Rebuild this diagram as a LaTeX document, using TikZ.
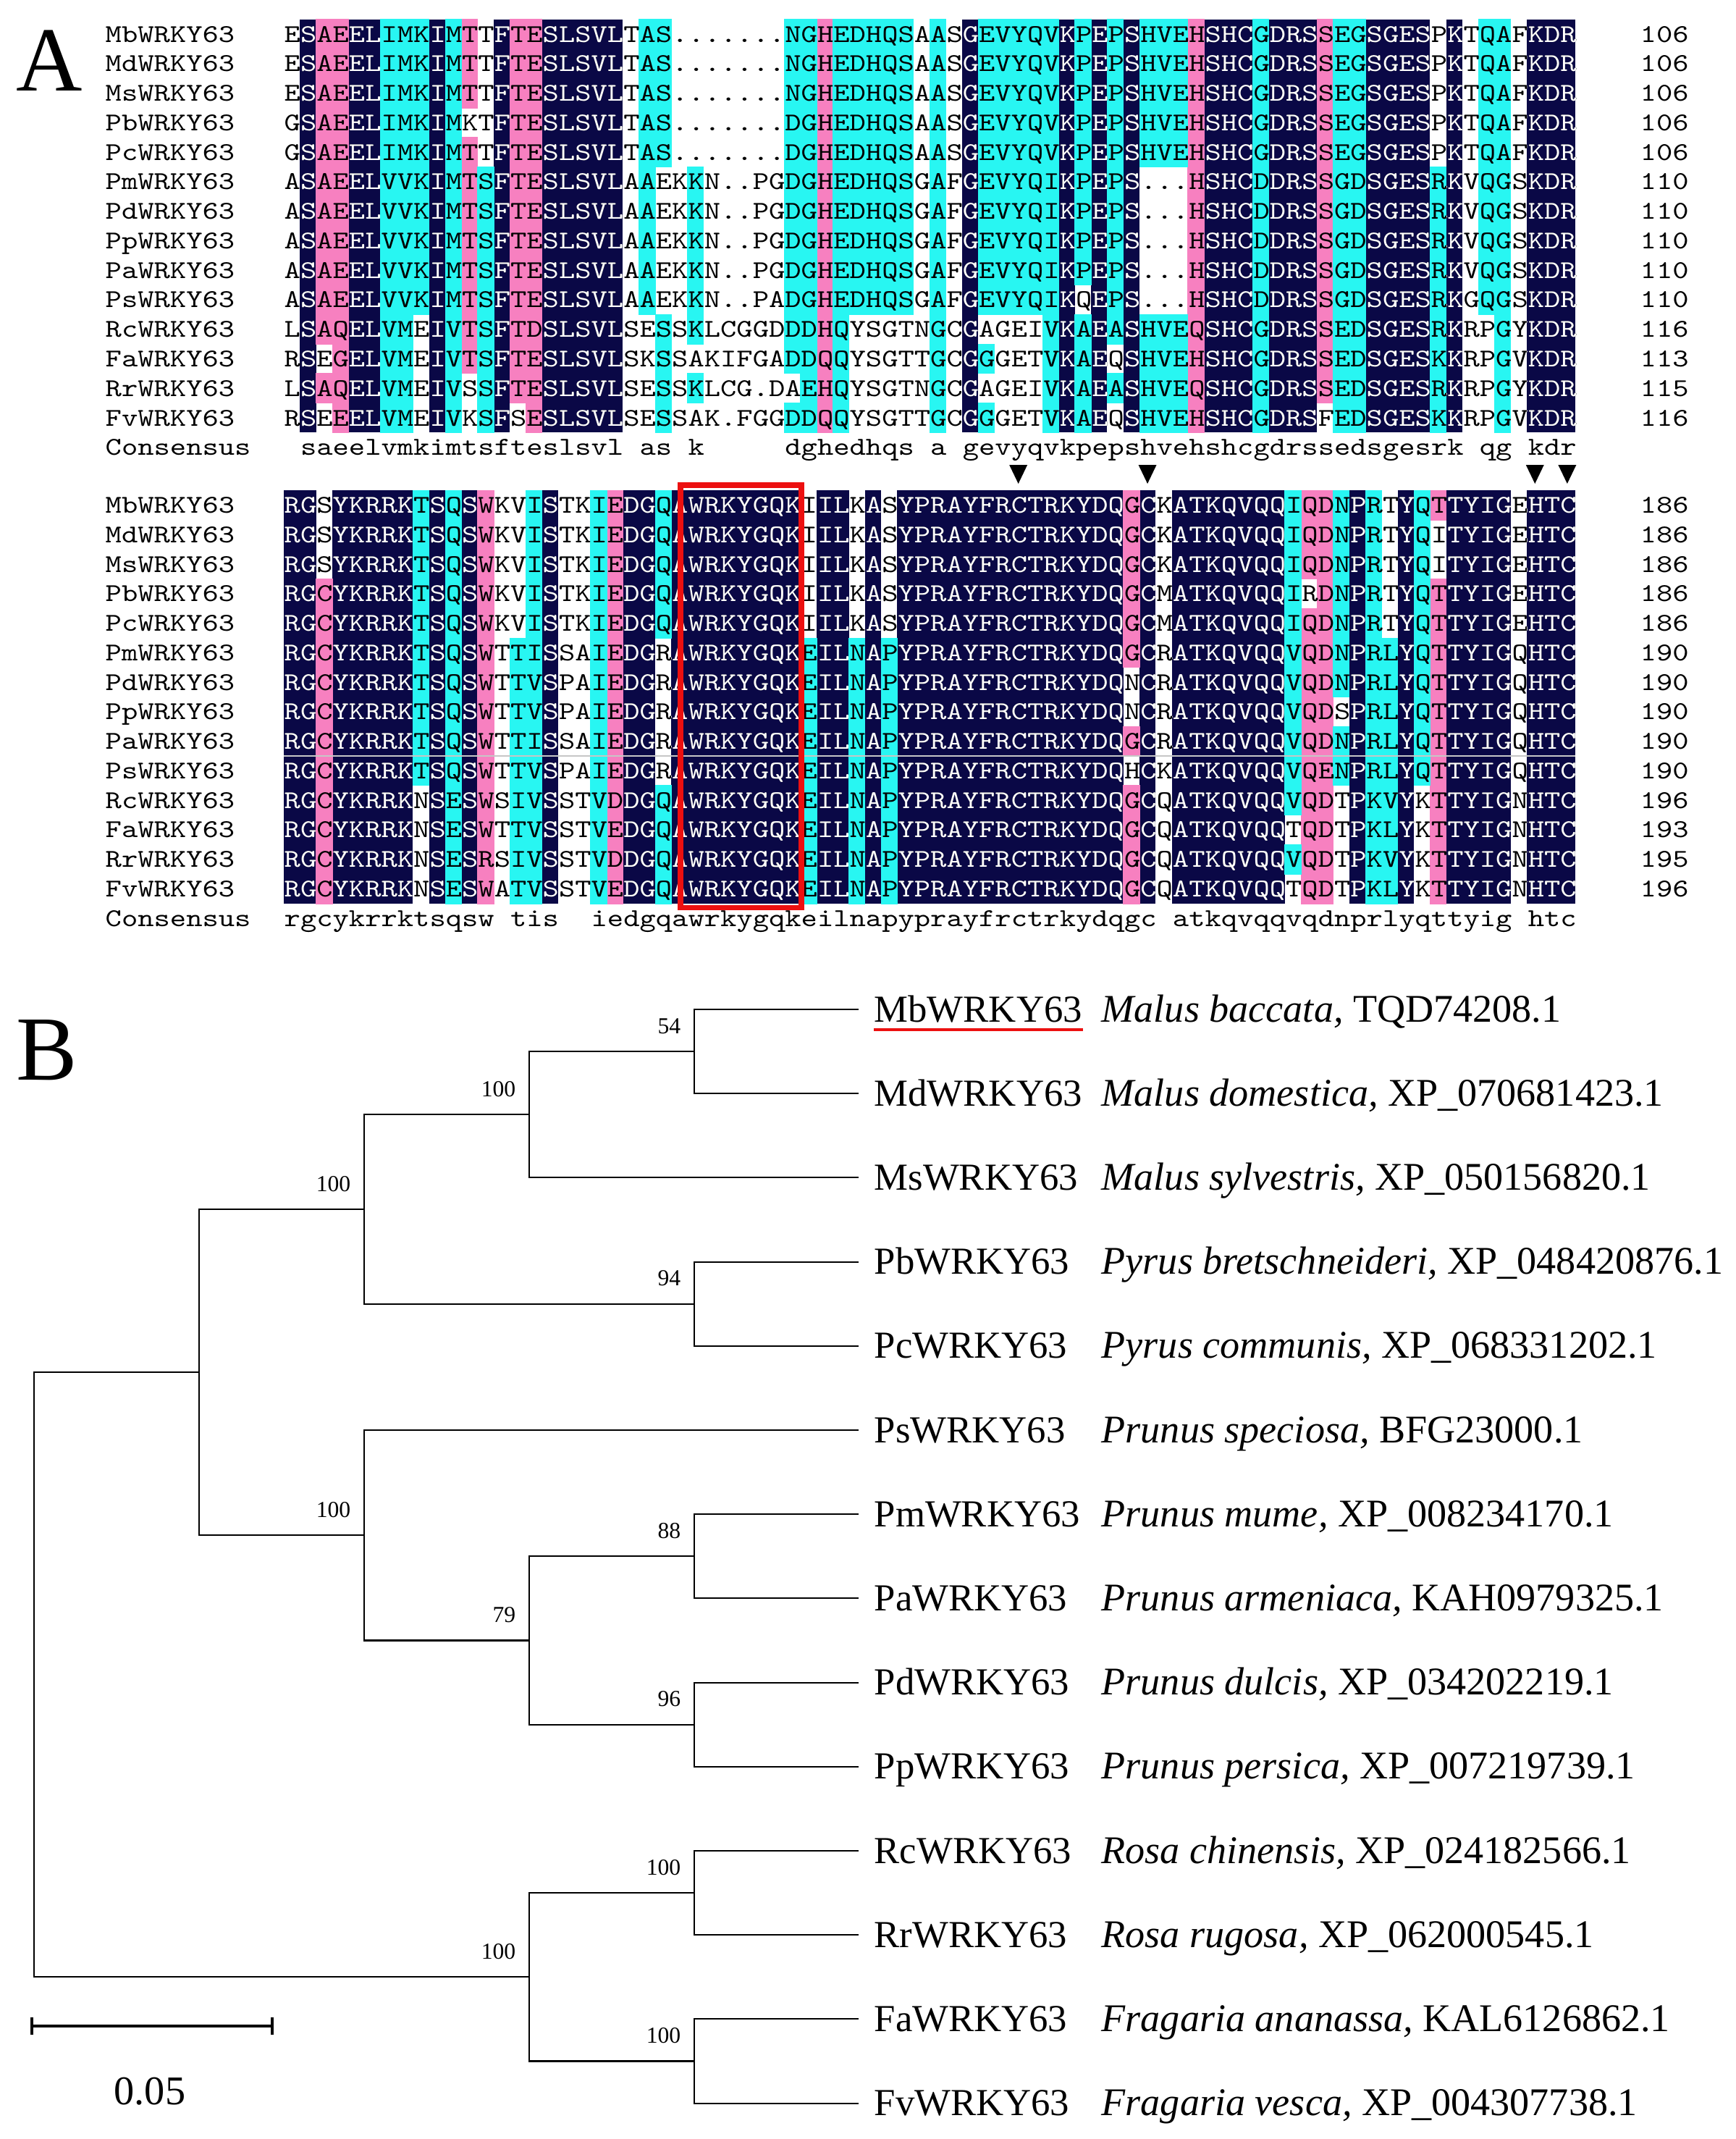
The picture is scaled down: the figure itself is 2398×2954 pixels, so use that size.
\documentclass[tikz,border=0pt]{standalone}
\usepackage{fontspec}
\usepackage{graphicx}
\newfontfamily\timesfont{Liberation Serif}
\definecolor{navyc}{RGB}{10,8,70}
\definecolor{pinkc}{RGB}{247,128,192}
\definecolor{cyanc}{RGB}{40,246,242}
\definecolor{boxred}{RGB}{236,16,16}
\newlength\colw \setlength\colw{0.223cm}
\newlength\caph \setlength\caph{0.22cm}
\newcommand{\mono}[2]{\resizebox{#1\colw}{\caph}{\ttfamily #2}}
% #1 first row y, #2 prefix, #3 navy columns, #4 tinted cells, #5 rows, #6 consensus
\newcommand{\alnblock}[6]{%
  \foreach \ca/\cb in {#3}
    \fill[navyc] ({392+(\ca-1)*22.3},{#1-20.4}) rectangle ({392+\cb*22.3},{#1-20.4+14*40.77});
  \foreach \tc/\ca/\cb/\ra/\rb in {#4}
    \filldraw[cell, fill=\tc, draw=\tc] ({392+(\ca-1)*22.3},{#1-20.4+(\ra-1)*40.77}) rectangle ({392+\cb*22.3},{#1-20.4+\rb*40.77});
  \foreach \nm/\sq/\en [count=\rw] in {#5} {
    \node[seq] (#2name\rw) at (145,{#1+(\rw-1)*40.77+11}) {\mono{8}{\nm WRKY63}};
    \node[seq] (#2seq\rw) at (392,{#1+(\rw-1)*40.77+11}) {\mono{80}{\sq}};
    \node[seq] (#2end\rw) at (2265,{#1+(\rw-1)*40.77+11}) {\mono{3}{\en}};
  }
  \begin{scope}
    \clip \foreach \ca/\cb in {#3} {({392+(\ca-1)*22.3},{#1-20.4}) rectangle ({392+\cb*22.3},{#1-20.4+14*40.77})};
    \foreach \nm/\sq/\en [count=\rw] in {#5}
      \node[seq, text=white] (#2white\rw) at (392,{#1+(\rw-1)*40.77+11}) {\mono{80}{\sq}};
  \end{scope}
  \node[seq] (#2cname) at (145,{#1+14*40.77+11}) {\mono{9}{Consensus}};
  \node[seq] (#2cons) at (392,{#1+14*40.77+11}) {\mono{80}{#6}};
}
\begin{document}
\begin{tikzpicture}[x=0.01cm, y=-0.01cm,
    seq/.style={inner sep=0pt, anchor=base west},
    cell/.style={line width=0.2pt},
    branch/.style={line width=0.6pt},
    boot/.style={font=\timesfont\fontsize{9}{11}\selectfont, inner sep=0pt, anchor=base east},
    gene/.style={font=\timesfont\fontsize{15}{18}\selectfont, inner sep=0pt, anchor=base west},
    species/.style={font=\timesfont\fontsize{15.4}{18}\selectfont, inner sep=0pt, anchor=base west},
    panel/.style={font=\timesfont\fontsize{36}{40}\selectfont, inner sep=0pt, anchor=base west}]
\useasboundingbox (0,0) rectangle (2398,2954);

\node[panel] (panelA) at (22,125) {A};
\alnblock{47}{A}
  {2/2,5/6,10/10,14/14,17/21,43/43,49/49,51/51,53/53,58/60,62/64,68/71,73/73,78/80}
  {pinkc/3/3/1/11, pinkc/3/3/13/13, pinkc/4/4/1/14, pinkc/12/12/1/3, pinkc/12/12/5/12,
   pinkc/15/15/1/13, pinkc/16/16/1/14, pinkc/34/34/1/14, pinkc/57/57/1/14, pinkc/65/65/1/13,
   cyanc/7/9/1/10, cyanc/7/8/11/14, cyanc/11/11/1/14, cyanc/13/13/6/14, cyanc/23/23/1/10,
   cyanc/24/24/1/5, cyanc/24/24/11/14, cyanc/26/26/6/11, cyanc/26/26/13/13,
   cyanc/32/33/1/12, cyanc/33/33/13/13, cyanc/32/33/14/14, cyanc/35/39/1/10, cyanc/35/35/11/14,
   cyanc/41/41/1/14, cyanc/44/48/1/10, cyanc/48/48/11/14, cyanc/44/44/12/12, cyanc/44/44/14/14,
   cyanc/50/50/1/9, cyanc/50/50/11/14, cyanc/52/52/1/11, cyanc/52/52/13/13,
   cyanc/54/56/1/5, cyanc/54/56/11/14, cyanc/61/61/1/14, cyanc/66/67/1/14, cyanc/72/72/6/14,
   cyanc/75/76/1/10, cyanc/76/76/11/14}
  {Mb/{ESAEELIMKIMTTFTESLSVLTAS.......NGHEDHQSAASGEVYQVKPEPSHVEHSHCGDRSSEGSGESPKTQAFKDR}/106,
   Md/{ESAEELIMKIMTTFTESLSVLTAS.......NGHEDHQSAASGEVYQVKPEPSHVEHSHCGDRSSEGSGESPKTQAFKDR}/106,
   Ms/{ESAEELIMKIMTTFTESLSVLTAS.......NGHEDHQSAASGEVYQVKPEPSHVEHSHCGDRSSEGSGESPKTQAFKDR}/106,
   Pb/{GSAEELIMKIMKTFTESLSVLTAS.......DGHEDHQSAASGEVYQVKPEPSHVEHSHCGDRSSEGSGESPKTQAFKDR}/106,
   Pc/{GSAEELIMKIMTTFTESLSVLTAS.......DGHEDHQSAASGEVYQVKPEPSHVEHSHCGDRSSEGSGESPKTQAFKDR}/106,
   Pm/{ASAEELVVKIMTSFTESLSVLAAEKKN..PGDGHEDHQSGAFGEVYQIKPEPS...HSHCDDRSSGDSGESRKVQGSKDR}/110,
   Pd/{ASAEELVVKIMTSFTESLSVLAAEKKN..PGDGHEDHQSGAFGEVYQIKPEPS...HSHCDDRSSGDSGESRKVQGSKDR}/110,
   Pp/{ASAEELVVKIMTSFTESLSVLAAEKKN..PGDGHEDHQSGAFGEVYQIKPEPS...HSHCDDRSSGDSGESRKVQGSKDR}/110,
   Pa/{ASAEELVVKIMTSFTESLSVLAAEKKN..PGDGHEDHQSGAFGEVYQIKPEPS...HSHCDDRSSGDSGESRKVQGSKDR}/110,
   Ps/{ASAEELVVKIMTSFTESLSVLAAEKKN..PADGHEDHQSGAFGEVYQIKQEPS...HSHCDDRSSGDSGESRKGQGSKDR}/110,
   Rc/{LSAQELVMEIVTSFTDSLSVLSESSKLCGGDDDHQYSGTNGCGAGEIVKAEASHVEQSHCGDRSSEDSGESRKRPGYKDR}/116,
   Fa/{RSEGELVMEIVTSFTESLSVLSKSSAKIFGADDQQYSGTTGCGGGETVKAEQSHVEHSHCGDRSSEDSGESKKRPGVKDR}/113,
   Rr/{LSAQELVMEIVSSFTESLSVLSESSKLCG.DAEHQYSGTNGCGAGEIVKAEASHVEQSHCGDRSSEDSGESRKRPGYKDR}/115,
   Fv/{RSEEELVMEIVKSFSESLSVLSESSAK.FGGDDQQYSGTTGCGGGETVKAEQSHVEHSHCGDRSFEDSGESKKRPGVKDR}/116}
  {~saeelvmkimtsfteslsvl~as~k~~~~~dghedhqs~a~gevyqvkpepshvehshcgdrssedsgesrk~qg~kdr}

\alnblock{697.5}{B}
  {1/2,4/8,10/10,12/12,17/17,22/23,25/32,34/35,37/37,39/52,54/54,56/62,67/67,70/70,73/76,78/80}
  {pinkc/3/3/4/14, pinkc/13/13/1/14, pinkc/21/21/1/14, pinkc/53/53/1/6, pinkc/53/53/9/9,
   pinkc/53/53/11/14, pinkc/64/65/1/3, pinkc/65/65/4/4, pinkc/64/65/5/14, pinkc/72/72/1/1,
   pinkc/72/72/4/14,
   cyanc/9/9/1/10, cyanc/11/11/1/14, cyanc/15/16/6/14, cyanc/16/16/1/5, cyanc/20/20/1/14,
   cyanc/24/24/1/5, cyanc/24/24/11/14, cyanc/33/33/6/14, cyanc/36/36/6/14, cyanc/38/38/6/14,
   cyanc/63/63/1/11, cyanc/63/63/13/13, cyanc/66/66/1/7, cyanc/66/66/9/10,
   cyanc/68/69/6/14, cyanc/68/68/1/5, cyanc/71/71/1/10}
  {Mb/{RGSYKRRKTSQSWKVISTKIEDGQAWRKYGQKIILKASYPRAYFRCTRKYDQGCKATKQVQQIQDNPRTYQTTYIGEHTC}/186,
   Md/{RGSYKRRKTSQSWKVISTKIEDGQAWRKYGQKIILKASYPRAYFRCTRKYDQGCKATKQVQQIQDNPRTYQITYIGEHTC}/186,
   Ms/{RGSYKRRKTSQSWKVISTKIEDGQAWRKYGQKIILKASYPRAYFRCTRKYDQGCKATKQVQQIQDNPRTYQITYIGEHTC}/186,
   Pb/{RGCYKRRKTSQSWKVISTKIEDGQAWRKYGQKIILKASYPRAYFRCTRKYDQGCMATKQVQQIRDNPRTYQTTYIGEHTC}/186,
   Pc/{RGCYKRRKTSQSWKVISTKIEDGQAWRKYGQKIILKASYPRAYFRCTRKYDQGCMATKQVQQIQDNPRTYQTTYIGEHTC}/186,
   Pm/{RGCYKRRKTSQSWTTISSAIEDGRAWRKYGQKEILNAPYPRAYFRCTRKYDQGCRATKQVQQVQDNPRLYQTTYIGQHTC}/190,
   Pd/{RGCYKRRKTSQSWTTVSPAIEDGRAWRKYGQKEILNAPYPRAYFRCTRKYDQNCRATKQVQQVQDNPRLYQTTYIGQHTC}/190,
   Pp/{RGCYKRRKTSQSWTTVSPAIEDGRAWRKYGQKEILNAPYPRAYFRCTRKYDQNCRATKQVQQVQDSPRLYQTTYIGQHTC}/190,
   Pa/{RGCYKRRKTSQSWTTISSAIEDGRAWRKYGQKEILNAPYPRAYFRCTRKYDQGCRATKQVQQVQDNPRLYQTTYIGQHTC}/190,
   Ps/{RGCYKRRKTSQSWTTVSPAIEDGRAWRKYGQKEILNAPYPRAYFRCTRKYDQHCKATKQVQQVQENPRLYQTTYIGQHTC}/190,
   Rc/{RGCYKRRKNSESWSIVSSTVDDGQAWRKYGQKEILNAPYPRAYFRCTRKYDQGCQATKQVQQVQDTPKVYKTTYIGNHTC}/196,
   Fa/{RGCYKRRKNSESWTTVSSTVEDGQAWRKYGQKEILNAPYPRAYFRCTRKYDQGCQATKQVQQTQDTPKLYKTTYIGNHTC}/193,
   Rr/{RGCYKRRKNSESRSIVSSTVDDGQAWRKYGQKEILNAPYPRAYFRCTRKYDQGCQATKQVQQVQDTPKVYKTTYIGNHTC}/195,
   Fv/{RGCYKRRKNSESWATVSSTVEDGQAWRKYGQKEILNAPYPRAYFRCTRKYDQGCQATKQVQQTQDTPKLYKTTYIGNHTC}/196}
  {rgcykrrktsqsw~tis~~iedgqawrkygqkeilnapyprayfrctrkydqgc~atkqvqqvqdnprlyqttyig~htc}

\draw[gray!45, line width=0.5pt] (392,1044) -- (2176,1044);
\foreach \cc in {46,54,78,80}
  \fill ({380.85+22.3*\cc-12.5},642) -- ++(25,0) -- ({380.85+22.3*\cc},668) -- cycle;
\draw[boxred, line width=2pt] (940,670) rectangle (1107,1253);

\node[panel] (panelB) at (22,1491) {B};
\coordinate (root) at (47,2312.7);
\coordinate (nA) at (275,1895.1);
\coordinate (nB) at (503,1670);
\coordinate (nC) at (731,1539.2);
\coordinate (n54) at (959,1452.1);
\coordinate (n94) at (959,1800.7);
\coordinate (nD) at (503,2120.2);
\coordinate (n79) at (731,2265.5);
\coordinate (n88) at (959,2149.3);
\coordinate (n96) at (959,2381.7);
\coordinate (nE) at (731,2730.3);
\coordinate (nR) at (959,2614.1);
\coordinate (nF) at (959,2846.5);

\foreach \nm/\spc/\acn [count=\j] in {
    MbWRKY63/Malus baccata/TQD74208.1,
    MdWRKY63/Malus domestica/XP\_070681423.1,
    MsWRKY63/Malus sylvestris/XP\_050156820.1,
    PbWRKY63/Pyrus bretschneideri/XP\_048420876.1,
    PcWRKY63/Pyrus communis/XP\_068331202.1,
    PsWRKY63/Prunus speciosa/BFG23000.1,
    PmWRKY63/Prunus mume/XP\_008234170.1,
    PaWRKY63/Prunus armeniaca/KAH0979325.1,
    PdWRKY63/Prunus dulcis/XP\_034202219.1,
    PpWRKY63/Prunus persica/XP\_007219739.1,
    RcWRKY63/Rosa chinensis/XP\_024182566.1,
    RrWRKY63/Rosa rugosa/XP\_062000545.1,
    FaWRKY63/Fragaria ananassa/KAL6126862.1,
    FvWRKY63/Fragaria vesca/XP\_004307738.1} {
  \coordinate (\nm) at (1186,{1394+(\j-1)*116.2});
  \node[gene] (lab\j) at (1207,{1394+(\j-1)*116.2+17}) {\nm};
  \node[species] (sp\j) at (1521,{1394+(\j-1)*116.2+17}) {\textit{\spc,} \acn};
}
\draw[boxred, line width=1.3pt] ([yshift=-0.11cm]lab1.base west) -- ([yshift=-0.11cm]lab1.base east);

\foreach \p/\q in {root/nA, root/nE, nA/nB, nA/nD, nB/nC, nB/n94, nC/n54, nC/MsWRKY63,
    n54/MbWRKY63, n54/MdWRKY63, n94/PbWRKY63, n94/PcWRKY63, nD/PsWRKY63, nD/n79,
    n79/n88, n79/n96, n88/PmWRKY63, n88/PaWRKY63, n96/PdWRKY63, n96/PpWRKY63,
    nE/nR, nE/nF, nR/RcWRKY63, nR/RrWRKY63, nF/FaWRKY63, nF/FvWRKY63}
  \draw[branch] (\p) |- (\q);
\foreach \k/\v in {nB/100, nC/100, n54/54, n94/94, nD/100, n79/79, n88/88, n96/96,
    nE/100, nR/100, nF/100}
  \node[boot] (bs\k) at ([shift={(-18,-25)}]\k) {\v};

\coordinate (sbL) at (44,2798);
\coordinate (sbR) at (376,2798);
\draw[line width=1pt] (sbL) -- (sbR);
\draw[line width=1pt] ([yshift=0.12cm]sbL) -- ([yshift=-0.12cm]sbL);
\draw[line width=1pt] ([yshift=0.12cm]sbR) -- ([yshift=-0.12cm]sbR);
\node[font=\timesfont\fontsize{16}{18}\selectfont, inner sep=0pt] (sbtext) at (207,2888) {0.05};
\end{tikzpicture}
\end{document}
